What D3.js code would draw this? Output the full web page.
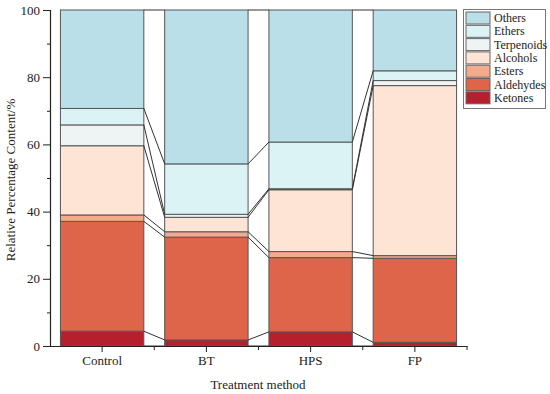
<!DOCTYPE html>
<html lang="en">
<head>
<meta charset="utf-8">
<title>Relative percentage content by treatment method</title>
<script src="https://cdn.jsdelivr.net/npm/d3@7"></script>
<style>
  body { margin: 0; background: #fff; }
  text { font-family: "Liberation Serif", "DejaVu Serif", serif; fill: #222; }
</style>
</head>
<body>
<script>
// categories and series (%)
var methods = ["Control", "BT", "HPS", "FP"];
var groups = ["Ketones", "Aldehydes", "Esters", "Alcohols", "Terpenoids", "Ethers", "Others"];
var ketones    = [4.4, 1.8, 4.2, 1.1];
var aldehydes  = [32.7, 30.6, 22.1, 25.0];
var esters     = [1.9, 1.6, 1.8, 0.8];
var alcohols   = [20.6, 4.3, 18.4, 50.6];
var terpenoids = [6.2, 0.9, 0.3, 1.5];
var ethers     = [4.9, 15.0, 13.9, 2.9];
var others     = [29.3, 45.8, 39.3, 18.1];
var colours = ["#b51f2e", "#de6549", "#f4aa8b", "#fde4d4", "#eef3f3", "#dbf3f5", "#badfe8"];
var yTicks = [0, 20, 40, 60, 80, 100];

var W = 550, H = 394;
var svg = d3.select("body").append("svg").attr("width", W).attr("height", H);

var x = d3.scaleBand().domain(methods).range([50, 467]).paddingInner(0.2).paddingOuter(0.1);
var y = d3.scaleLinear().domain([0, 100]).range([346, 10]);

// build table for stack
var series = [ketones, aldehydes, esters, alcohols, terpenoids, ethers, others];
var rows = methods.map(function(m, i) {
  var r = { method: m };
  groups.forEach(function(g, j) { r[g] = series[j][i]; });
  return r;
});
var stacked = d3.stack().keys(groups)(rows);

// bars
var layer = svg.selectAll("g.layer").data(stacked).enter().append("g")
  .attr("class", "layer")
  .attr("fill", function(d, i) { return colours[i]; });

layer.selectAll("rect").data(function(d) { return d; }).enter().append("rect")
  .attr("x", function(d) { return x(d.data.method); })
  .attr("y", function(d) { return y(d[1]); })
  .attr("width", x.bandwidth())
  .attr("height", function(d) { return y(d[0]) - y(d[1]); })
  .attr("stroke", "#555")
  .attr("stroke-width", 1);

// connector lines between neighbouring bars
var cum = methods.map(function(m, i) {
  var c = [0];
  stacked.forEach(function(s) { c.push(s[i][1]); });
  return c;
});
for (var i = 0; i < methods.length - 1; i++) {
  for (var k = 0; k < cum[i].length; k++) {
    svg.append("line")
      .attr("x1", x(methods[i]) + x.bandwidth())
      .attr("y1", y(cum[i][k]))
      .attr("x2", x(methods[i + 1]))
      .attr("y2", y(cum[i + 1][k]))
      .attr("stroke", "#333")
      .attr("stroke-width", 1);
  }
}

// y axis
svg.append("g").attr("transform", "translate(50,0)")
  .call(d3.axisLeft(y).tickValues(yTicks).tickSize(7).tickPadding(3));
svg.append("g").attr("transform", "translate(50,0)")
  .call(d3.axisLeft(y).tickValues([10, 30, 50, 70, 90]).tickSize(3).tickFormat(""))
  .select(".domain").remove();

// x axis
svg.append("g").attr("transform", "translate(0,346)")
  .call(d3.axisBottom(x).tickSize(6).tickSizeOuter(0).tickPadding(4));
var step = x.step();
var minor = d3.range(methods.length).map(function(i) { return 50 + step * (i + 1); });
svg.append("g").selectAll("line").data(minor).enter().append("line")
  .attr("x1", function(d) { return d; }).attr("x2", function(d) { return d; })
  .attr("y1", 346).attr("y2", 350)
  .attr("stroke", "#222");

svg.selectAll(".domain").attr("stroke", "#222").attr("stroke-width", 1.2);
svg.selectAll(".tick line").attr("stroke", "#222");
svg.selectAll(".tick text").attr("font-family", "Liberation Serif").attr("font-size", 13).attr("fill", "#222");

// axis titles
svg.append("text")
  .attr("transform", "translate(15,180) rotate(-90)")
  .attr("text-anchor", "middle")
  .attr("font-size", 13)
  .text("Relative Percentage Content/%");
svg.append("text")
  .attr("x", 258).attr("y", 389)
  .attr("text-anchor", "middle")
  .attr("font-size", 13)
  .text("Treatment method");

// legend, top item is Others
var legend = svg.append("g");
legend.append("rect")
  .attr("x", 463.5).attr("y", 9.5).attr("width", 82).attr("height", 99)
  .attr("fill", "#fff").attr("stroke", "#777");
var legItems = groups.slice().reverse();
var legCols = colours.slice().reverse();
legItems.forEach(function(g, i) {
  var yy = 12 + i * 13.3;
  legend.append("rect")
    .attr("x", 466).attr("y", yy).attr("width", 24).attr("height", 12)
    .attr("fill", legCols[i]).attr("stroke", "#666");
  legend.append("text")
    .attr("x", 494).attr("y", yy + 10)
    .attr("font-size", 12)
    .text(g);
});
</script>
</body>
</html>
